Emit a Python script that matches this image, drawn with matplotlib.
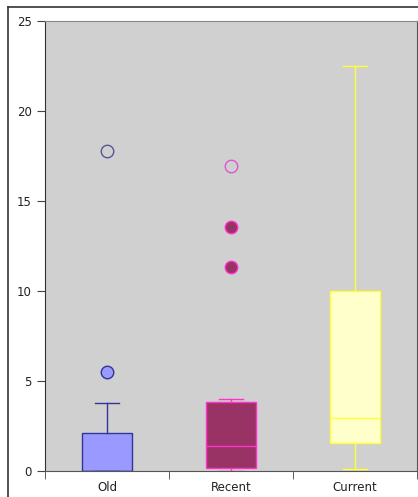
import matplotlib
matplotlib.use('Agg')
import matplotlib.pyplot as plt
from matplotlib.lines import Line2D

# box statistics
categories = ['Old', 'Recent', 'Current']
whisker_low = [0.0, 0.0, 0.1]
box_low = [0.0, 0.17, 1.55]
medians = [0.0, 1.39, 2.94]
box_high = [2.1, 3.83, 10.0]
whisker_high = [3.8, 4.0, 22.5]

# outliers: mild (filled) and extreme (open)
mild_outliers = [[5.5], [11.35, 13.55], []]
extreme_outliers = [[17.8], [16.95], []]

fills = ['#9999ff', '#993366', '#ffffcc']
edges = ['#333399', '#ff33cc', '#ffff33']
open_edges = ['#555599', '#e055d0', '#ffff33']

fig = plt.figure(figsize=(4.18, 4.97), dpi=100)
ax = fig.add_axes([45/418, 1-471/497, 372/418, 450/497])
ax.set_facecolor('#d0d0d0')

for i in range(len(categories)):
    stats = [dict(whislo=whisker_low[i], q1=box_low[i], med=medians[i],
                  q3=box_high[i], whishi=whisker_high[i], fliers=[])]
    ax.bxp(stats, positions=[i], widths=0.4, patch_artist=True, showfliers=False,
           boxprops=dict(facecolor=fills[i], edgecolor=edges[i], linewidth=1),
           medianprops=dict(color=edges[i], linewidth=1),
           whiskerprops=dict(color=edges[i], linewidth=1),
           capprops=dict(color=edges[i], linewidth=1),
           capwidths=0.2)
    if mild_outliers[i]:
        ax.plot([i]*len(mild_outliers[i]), mild_outliers[i], 'o', ms=9,
                mfc=fills[i], mec=edges[i], mew=1)
    if extreme_outliers[i]:
        ax.plot([i]*len(extreme_outliers[i]), extreme_outliers[i], 'o', ms=9,
                mfc='none', mec=open_edges[i], mew=1)

ax.set_xlim(-0.5, 2.5)
ax.set_ylim(0, 25)
ax.set_yticks([0, 5, 10, 15, 20, 25])
ax.set_xticks([0, 1, 2])
ax.set_xticklabels(categories, fontsize=8.5, color='#222222')
ax.tick_params(axis='x', length=0, pad=7)
ax.set_xticks([-0.5, 0.5, 1.5, 2.5], minor=True)
ax.tick_params(axis='x', which='minor', length=6, color='#444444')
ax.tick_params(axis='y', labelsize=8.5, labelcolor='#222222', length=6, color='#444444')

ax.spines['left'].set_color('#333333')
ax.spines['bottom'].set_color('#555555')
ax.spines['top'].set_color('#888888')
ax.spines['right'].set_color('#555555')

# outer frame of the picture
fig.add_artist(Line2D([8/418, 1], [1-7/497, 1-7/497], color='#333333', lw=1.2))
fig.add_artist(Line2D([8/418, 8/418], [0, 1-7/497], color='#333333', lw=1.2))

plt.savefig('out.png', dpi=100)
